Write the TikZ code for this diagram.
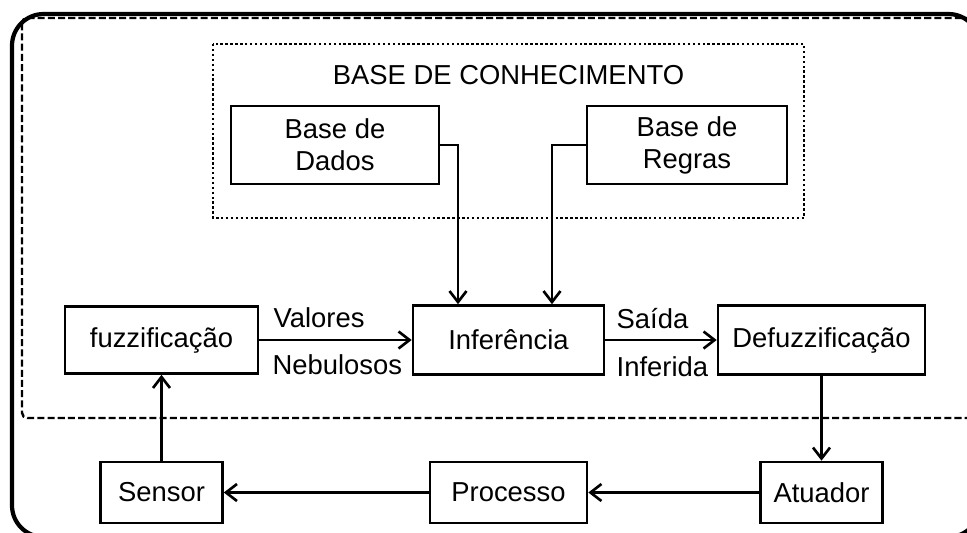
\documentclass[tikz,border=0pt]{standalone}
\usepackage{fontspec}
\setmainfont{Liberation Sans}
\usetikzlibrary{arrows.meta}

\begin{document}
\begin{tikzpicture}[x=0.02cm,y=-0.02cm,
		bloco/.style={draw,line width=1.5pt,inner sep=0pt,align=center,font=\fontsize{15.6}{18.2}\selectfont},
		rotulo/.style={inner sep=0pt,anchor=base west,font=\fontsize{15.6}{18.2}\selectfont},
		seta/.style={line width=1.5pt,-{Straight Barb[length=2.2mm,width=3.4mm]}}]
			\useasboundingbox (0,0) rectangle (967,532);
			\draw [line width=2.4pt,rounded corners=18pt] (12,14) rectangle (980,537);
			\draw [line width=1.4pt,dash pattern=on 4pt off 1.8pt,rounded corners=3pt] (22,18) rectangle (995,418);
			\draw [line width=1.4pt,dash pattern=on 1.4pt off 1.4pt] (213,44) rectangle (804,218);
			\node [rotulo,anchor=center] (titulo) at (508.5,75) {BASE DE CONHECIMENTO};
			\node [bloco,minimum width=4.16cm,minimum height=1.56cm] (dados) at (335,145) {Base de\\Dados};
			\node [bloco,minimum width=4cm,minimum height=1.56cm] (regras) at (687,145) {Base de\\Regras};
			\node [bloco,minimum width=3.86cm,minimum height=1.34cm] (fuzz) at (161.5,340) {fuzzificação};
			\node [bloco,minimum width=3.82cm,minimum height=1.38cm] (infer) at (508.5,340) {Inferência};
			\node [bloco,minimum width=4.14cm,minimum height=1.38cm] (defuzz) at (821.5,340) {Defuzzificação};
			\node [bloco,minimum width=2.44cm,minimum height=1.22cm] (sensor) at (161.5,492.5) {Sensor};
			\node [bloco,minimum width=3.14cm,minimum height=1.22cm] (processo) at (508.5,492.5) {Processo};
			\node [bloco,minimum width=2.44cm,minimum height=1.22cm] (atuador) at (821.5,492.5) {Atuador};
			\node [rotulo] (valores) at ([shift={(14,-13)}]fuzz.east) {Valores};
			\node [rotulo] (nebulosos) at ([shift={(13,34)}]fuzz.east) {Nebulosos};
			\node [rotulo] (saida) at ([shift={(11,-12)}]infer.east) {Saída};
			\node [rotulo] (inferida) at ([shift={(11,36)}]infer.east) {Inferida};
			\draw [seta] (dados.east) -| ([shift={(-50.5,0)}]infer.north);
			\draw [seta] (regras.west) -| ([shift={(43.5,0)}]infer.north);
			\draw [seta] (fuzz.east) -- (infer.west);
			\draw [seta] (infer.east) -- (defuzz.west);
			\draw [seta] (defuzz.south) -- (atuador.north);
			\draw [seta] (atuador.west) -- (processo.east);
			\draw [seta] (processo.west) -- (sensor.east);
			\draw [seta] (sensor.north) -- (fuzz.south);
		\end{tikzpicture}
\end{document}
